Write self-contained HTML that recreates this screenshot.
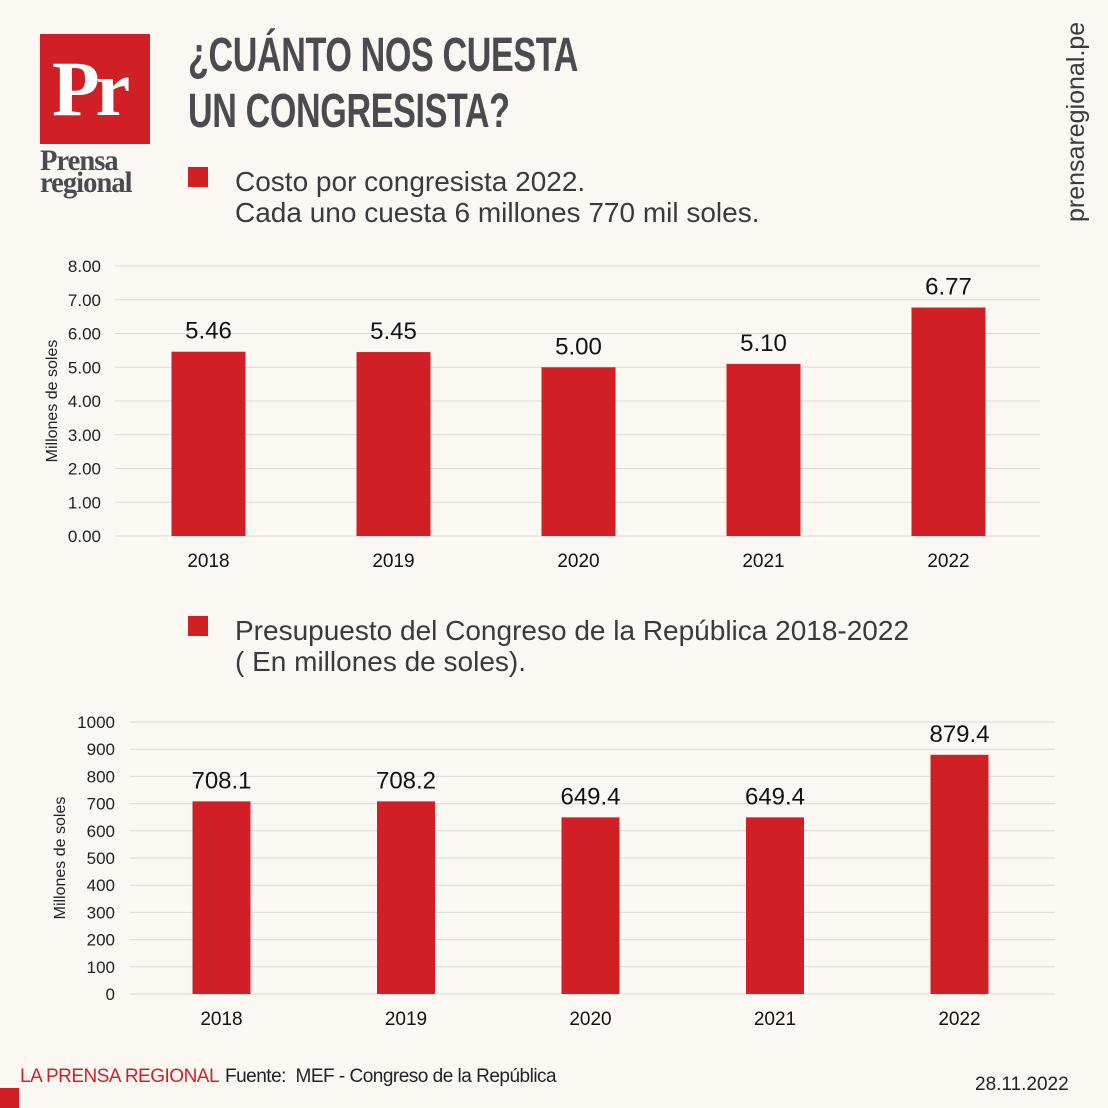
<!DOCTYPE html>
<html><head><meta charset="utf-8"><style>
body{margin:0;width:1108px;height:1108px;background:#fbf8f4;position:relative;overflow:hidden;font-family:"Liberation Sans",sans-serif}
.abs{position:absolute}
.title{left:188px;font-family:"Liberation Sans Narrow","Liberation Sans",sans-serif;font-weight:bold;font-size:48px;color:#4a4a4f;transform-origin:0 0;transform:scaleX(0.71);white-space:nowrap;letter-spacing:-0.5px}
.leg{font-size:28px;color:#3a3a3a;line-height:31px;white-space:nowrap}
.sq{background:#d11f26;width:20px;height:20px}
</style></head><body>
<div class="abs" style="left:40px;top:34px;width:110px;height:110px;background:#d11f26">
<div class="abs" style="left:12px;top:10px;font-family:'Liberation Serif',serif;font-weight:bold;font-size:78px;color:#fff;letter-spacing:-4px">Pr</div></div>
<div class="abs" style="left:40px;top:150px;font-family:'Liberation Serif',serif;font-weight:bold;font-size:30px;line-height:22px;color:#4a4a4f;transform:scaleX(0.95);transform-origin:0 0;letter-spacing:-1px">Prensa<br>regional</div>
<div class="abs title" style="top:28px">¿CUÁNTO NOS CUESTA</div>
<div class="abs title" style="top:84px">UN CONGRESISTA?</div>
<div class="abs" style="left:1062px;top:222px;transform-origin:0 0;transform:rotate(-90deg);font-size:25px;color:#3a3a3a;white-space:nowrap">prensaregional.pe</div>
<div class="abs sq" style="left:188px;top:167px"></div>
<div class="abs leg" style="left:235px;top:166px">Costo por congresista 2022.<br>Cada uno cuesta 6 millones 770 mil soles.</div>
<div class="abs sq" style="left:188px;top:616px"></div>
<div class="abs leg" style="left:235px;top:615px">Presupuesto del Congreso de la República 2018-2022<br>( En millones de soles).</div>
<svg class="abs" style="left:0;top:0" width="1108" height="1108" id="svg"></svg>
<div class="abs" style="left:20px;top:1066px;font-size:19px;color:#d11f26;letter-spacing:-0.5px">LA PRENSA REGIONAL</div>
<div class="abs" style="left:225px;top:1066px;font-size:19px;color:#222;letter-spacing:-0.5px">Fuente:&nbsp; MEF - Congreso de la República</div>
<div class="abs" style="left:0;top:1088px;width:19px;height:20px;background:#d11f26"></div>
<div class="abs" style="left:975px;top:1074px;font-size:19px;color:#222">28.11.2022</div>
<script>
const years=["2018","2019","2020","2021","2022"];
const costValues=[5.46,5.45,5.00,5.10,6.77];
const costTicks=["0.00","1.00","2.00","3.00","4.00","5.00","6.00","7.00","8.00"];
const budgetValues=[708.1,708.2,649.4,649.4,879.4];
const budgetTicks=["0","100","200","300","400","500","600","700","800","900","1000"];
const svg=document.getElementById('svg');
const NS='http://www.w3.org/2000/svg';
function mk(t,a){const e=document.createElementNS(NS,t);for(const k in a)e.setAttribute(k,a[k]);svg.appendChild(e);return e;}
function chart(c){
 const y=v=>c.y0-(v/c.max)*(c.y0-c.y1);
 const x=i=>c.cx0+i*c.step;
 c.ticks.forEach(t=>{const v=parseFloat(t);
  const l=mk('line',{x1:c.gx0,x2:c.gx1,y1:y(v),y2:y(v),stroke:'#dcdad6','stroke-width':1});
  
  
  const tx=mk('text',{x:c.tx,y:y(v)+6,'text-anchor':'end','font-size':17,fill:'#222','font-family':'Liberation Sans'});tx.textContent=t;
  
  
 });
 c.vals.forEach((v,i)=>{
  const r=mk('rect',{x:x(i)-c.bw/2,y:y(v),width:c.bw,height:c.y0-y(v),fill:'#d11f26'});
  
  
  const t=mk('text',{x:x(i),y:y(v)-13,'text-anchor':'middle','font-size':24,fill:'#111','font-family':'Liberation Sans'});t.textContent=c.fmt(v);
  
  
  const yl=mk('text',{x:x(i),y:c.y0+31,'text-anchor':'middle','font-size':19,fill:'#111','font-family':'Liberation Sans'});yl.textContent=years[i];
  
  
 });
 const at=mk('text',{x:c.ax,y:(c.y0+c.y1)/2,'text-anchor':'middle','font-size':16,fill:'#222','font-family':'Liberation Sans',transform:`rotate(-90 ${c.ax} ${(c.y0+c.y1)/2})`});at.textContent='Millones de soles';
 
 
}
chart({vals:costValues,ticks:costTicks,max:8,y0:536,y1:266,gx0:115,gx1:1040,tx:101,cx0:208.5,step:185,bw:74,ax:57,fmt:v=>v.toFixed(2)});
chart({vals:budgetValues,ticks:budgetTicks,max:1000,y0:994,y1:722,gx0:130,gx1:1055,tx:115,cx0:221.5,step:184.5,bw:58,ax:65,fmt:v=>v.toFixed(1)});
</script>
</body></html>
